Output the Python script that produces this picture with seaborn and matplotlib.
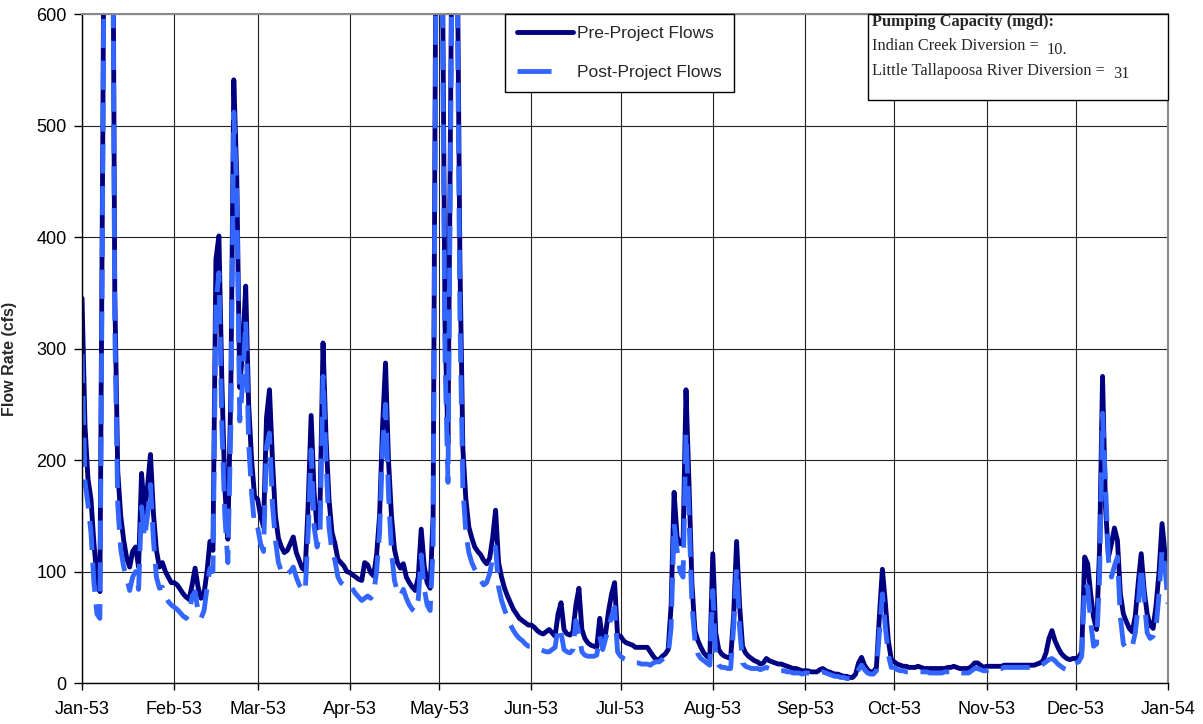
import matplotlib
matplotlib.use("Agg")
import matplotlib.pyplot as plt
import matplotlib.dates as mdates
from matplotlib.patches import Rectangle
from matplotlib.lines import Line2D
import pandas as pd
import seaborn as sns

# daily flow rates (cfs), 1 Jan 1953 .. 1 Jan 1954
pre_jan = [345, 230, 183, 165, 125, 95, 82, 500, 1000, 1200, 900, 350, 190, 150, 128, 112,
           104, 118, 122, 104, 188, 152, 176, 205, 152, 119, 104, 108, 100, 95, 90]
pre_feb = [90, 88, 84, 80, 77, 75, 88, 103, 86, 76, 80, 100, 127, 119, 380, 401, 270, 175,
           129, 260, 541, 455, 265, 300, 356, 250, 200, 167]
pre_mar = [165, 150, 140, 238, 263, 200, 150, 130, 122, 117, 119, 125, 131, 117, 110, 103,
           101, 160, 240, 171, 139, 160, 305, 220, 165, 135, 125, 111, 108, 105, 100]
pre_apr = [99, 97, 95, 93, 92, 108, 106, 99, 96, 115, 150, 230, 287, 200, 150, 120, 108, 103,
           107, 95, 90, 86, 83, 95, 138, 105, 90, 85, 150, 700]
pre_may = [1000, 700, 320, 215, 550, 950, 700, 380, 210, 165, 140, 130, 122, 118, 115, 110,
           107, 112, 130, 155, 108, 95, 85, 78, 72, 66, 62, 58, 56, 54, 52]
pre_jun = [52, 50, 47, 45, 44, 46, 48, 45, 42, 62, 72, 48, 44, 43, 46, 70, 85, 48, 40, 36,
           34, 33, 32, 58, 38, 45, 65, 80, 90, 42]
pre_jul = [42, 38, 36, 35, 34, 32, 32, 32, 32, 32, 28, 24, 21, 21, 24, 26, 30, 70, 171, 131,
           125, 125, 263, 179, 89, 47, 38, 32, 27, 24, 22]
pre_aug = [116, 45, 30, 26, 24, 23, 22, 60, 127, 70, 33, 27, 24, 22, 20, 19, 17, 18, 22, 20,
           19, 18, 17, 17, 16, 15, 14, 13, 13, 12, 11]
pre_sep = [11, 11, 10, 10, 10, 12, 13, 11, 10, 9, 8, 8, 7, 6, 6, 5, 5, 8, 18, 23, 16, 12, 10,
           10, 14, 60, 102, 72, 38, 21]
pre_oct = [19, 17, 16, 15, 15, 14, 14, 14, 15, 14, 13, 13, 13, 13, 13, 13, 13, 13, 14, 14, 15,
           14, 13, 13, 13, 13, 15, 18, 18, 16, 14]
pre_nov = [15, 15, 15, 15, 15, 15, 16, 16, 16, 16, 16, 16, 16, 16, 16, 16, 16, 17, 18, 20, 27,
           40, 47, 38, 32, 27, 24, 22, 21, 22]
pre_dec = [22, 23, 28, 113, 107, 80, 59, 48, 120, 275, 158, 113, 125, 139, 128, 80, 62, 55, 49,
           46, 60, 90, 116, 83, 62, 52, 49, 70, 100, 143, 116]
pre_jan54 = [89]

post_jan = [295, 180, 160, 135, 90, 62, 58, 470, 970, 1170, 870, 320, 160, 120, 104, 94, 83,
            95, 100, 84, 158, 130, 150, 178, 128, 95, 85, 86, 78, 73, 70]
post_feb = [68, 66, 63, 60, 58, 62, 78, 82, 64, 58, 65, 85, 103, 100, 340, 368, 230, 150, 108,
            230, 512, 440, 235, 270, 325, 215, 170, 140]
post_mar = [140, 125, 118, 212, 224, 160, 128, 108, 100, 96, 98, 100, 104, 95, 88, 84, 82, 135,
            209, 140, 122, 135, 275, 200, 140, 118, 110, 95, 90, 88, 86]
post_apr = [88, 84, 80, 77, 74, 76, 78, 76, 80, 100, 135, 210, 250, 170, 118, 92, 82, 78, 84,
            76, 70, 66, 64, 75, 115, 85, 70, 65, 120, 650]
post_may = [960, 650, 290, 180, 520, 910, 660, 330, 175, 135, 117, 108, 102, 97, 92, 88, 90,
            98, 112, 122, 86, 74, 66, 58, 52, 47, 43, 40, 38, 35, 33]
post_jun = [33, 32, 31, 30, 29, 28, 28, 30, 32, 50, 45, 30, 28, 27, 30, 56, 45, 28, 25, 24, 24,
            24, 25, 42, 30, 40, 50, 60, 68, 28]
post_jul = [24, 22, 21, 20, 19, 18, 18, 17, 17, 17, 16, 18, 19, 19, 21, 23, 25, 50, 143, 119,
            100, 95, 224, 150, 70, 38, 26, 22, 20, 18, 16]
post_aug = [83, 22, 16, 14, 14, 13, 13, 50, 103, 50, 18, 15, 14, 13, 13, 13, 12, 13, 14, 13, 12,
            12, 11, 11, 11, 10, 10, 9, 9, 9, 8]
post_sep = [9, 9, 8, 8, 8, 9, 10, 9, 8, 7, 6, 6, 5, 5, 4, 4, 4, 6, 12, 16, 12, 9, 8, 8, 11, 45,
            80, 50, 25, 14]
post_oct = [14, 12, 11, 11, 10, 10, 10, 10, 10, 10, 10, 10, 9, 9, 9, 9, 9, 10, 10, 10, 11, 10, 9,
            9, 9, 9, 11, 13, 13, 12, 11]
post_nov = [11, 12, 12, 13, 13, 13, 14, 14, 14, 14, 14, 14, 14, 14, 14, 14, 14, 15, 16, 17, 19,
            21, 22, 20, 17, 15, 13, 12, 13, 17]
post_dec = [18, 19, 24, 89, 86, 55, 33, 35, 95, 242, 179, 110, 95, 105, 113, 59, 35, 31, 30, 33,
            45, 70, 104, 74, 45, 40, 42, 50, 80, 119, 104]
post_jan54 = [71]

pre_flows = (pre_jan + pre_feb + pre_mar + pre_apr + pre_may + pre_jun + pre_jul + pre_aug
             + pre_sep + pre_oct + pre_nov + pre_dec + pre_jan54)
post_flows = (post_jan + post_feb + post_mar + post_apr + post_may + post_jun + post_jul
              + post_aug + post_sep + post_oct + post_nov + post_dec + post_jan54)

dates = pd.date_range("1953-01-01", periods=len(pre_flows), freq="D")
df = pd.DataFrame({"Date": dates, "Pre": pre_flows, "Post": post_flows})

PRE_COLOR = "#000080"
POST_COLOR = "#3366FF"

sns.set_style("white")
plt.rcParams["font.family"] = ["Liberation Sans", "DejaVu Sans"]
serif = ["Liberation Serif", "DejaVu Serif"]

fig = plt.figure(figsize=(12.03, 7.24), dpi=100)
ax = fig.add_axes([0.0682, 0.0566, 0.9027, 0.924])

sns.lineplot(data=df, x="Date", y="Pre", ax=ax, estimator=None, color=PRE_COLOR,
             linewidth=3.5, solid_capstyle="round", solid_joinstyle="round")
sns.lineplot(data=df, x="Date", y="Post", ax=ax, estimator=None, color=POST_COLOR,
             linewidth=3.5, linestyle=(0, (6.0, 2.6)))

ax.set_ylim(0, 600)
ax.set_yticks(range(0, 601, 100))
ax.set_xlim(pd.Timestamp("1953-01-01"), pd.Timestamp("1954-01-01"))
ax.set_xticks(pd.date_range("1953-01-01", "1954-01-01", freq="MS"))
ax.xaxis.set_major_formatter(mdates.DateFormatter("%b-%y"))

ax.grid(True, color="#222222", linewidth=0.8)
ax.set_axisbelow(True)
for side in ["left", "bottom"]:
    ax.spines[side].set_color("black")
    ax.spines[side].set_linewidth(1)
for side in ["top", "right"]:
    ax.spines[side].set_color("#888888")
    ax.spines[side].set_linewidth(1.5)

ax.tick_params(axis="x", bottom=True, direction="out", length=5, width=1, pad=8,
               labelsize=13, colors="black")
ax.tick_params(axis="y", left=True, direction="out", length=6, width=1, pad=5,
               labelsize=13, colors="black")

ax.set_xlabel("")
ax.set_ylabel("Flow Rate (cfs)", fontsize=11.5, fontweight="bold")
ax.yaxis.set_label_coords(-0.0599, 0.485)

# legend samples: solid bar and a single dash, as in the original
pre_handle = Line2D([], [], color=PRE_COLOR, linewidth=3.5, solid_capstyle="round")
post_handle = Line2D([], [], color=POST_COLOR, linewidth=3.5, linestyle=(0, (7.0, 12.0)),
                     dash_capstyle="butt")
leg = ax.legend([pre_handle, post_handle], ["Pre-Project Flows", "Post-Project Flows"],
                loc="upper left", bbox_to_anchor=(0.3895, 1.0), borderaxespad=0,
                frameon=True, fancybox=False, framealpha=1, edgecolor="black",
                fontsize=12.5, borderpad=0.7, labelspacing=1.36, handlelength=3.2,
                handletextpad=0.25)
leg.get_frame().set_linewidth(1)

box = Rectangle((0.7238, 0.8714), 0.2762, 0.1286, transform=ax.transAxes,
                facecolor="white", edgecolor="black", linewidth=1, zorder=5, clip_on=False)
ax.add_patch(box)
ax.text(0.7274, 0.988, "Pumping Capacity (mgd):", transform=ax.transAxes, family=serif,
        fontweight="bold", fontsize=11.8, va="center", zorder=6)
ax.text(0.7274, 0.952, "Indian Creek Diversion =", transform=ax.transAxes, family=serif,
        fontsize=11.8, va="center", zorder=6)
ax.text(0.8886, 0.947, "10.", transform=ax.transAxes, family=serif,
        fontsize=11.8, va="center", zorder=6)
ax.text(0.7274, 0.915, "Little Tallapoosa River Diversion =", transform=ax.transAxes,
        family=serif, fontsize=11.8, va="center", zorder=6)
ax.text(0.9494, 0.910, "31", transform=ax.transAxes, family=serif,
        fontsize=11.8, va="center", zorder=6)

fig.savefig("out.png", dpi=100)
